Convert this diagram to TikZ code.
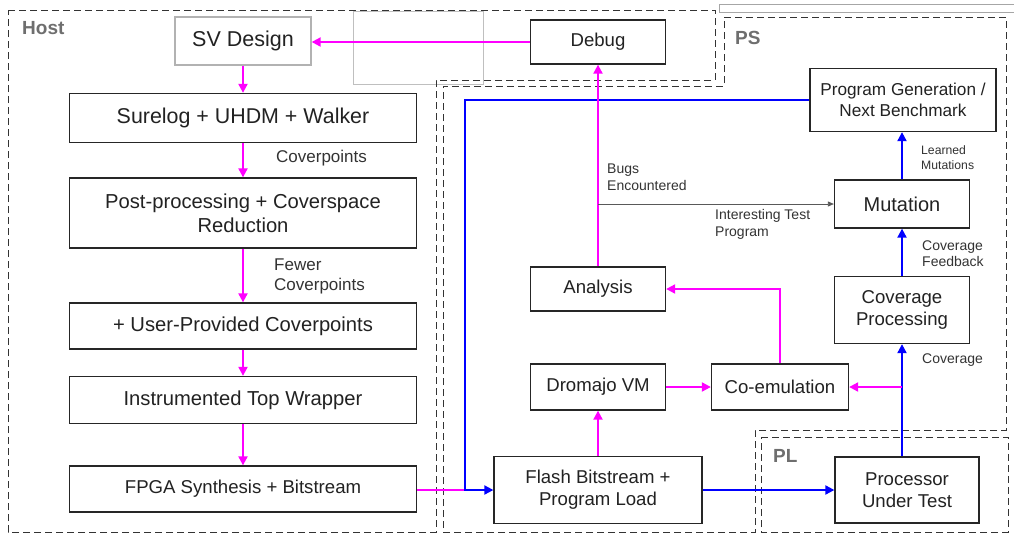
\documentclass[tikz,border=0pt]{standalone}
\usepackage{fontspec}
\setmainfont{Liberation Sans}
\usetikzlibrary{arrows.meta}
\definecolor{mag}{HTML}{FF00FF}
\definecolor{blu}{HTML}{0000FF}
\definecolor{regiongray}{HTML}{6E6E6E}
\definecolor{txt}{HTML}{222222}
\definecolor{lbl}{HTML}{333333}
\tikzset{
  box/.style={draw=black!85, line width=1.3pt, fill=white, text=txt, align=center, inner sep=0pt},
  hostfont/.style={font=\fontsize{20.2}{24}\selectfont},
  psfont/.style={font=\fontsize{18.6}{22}\selectfont},
  lab/.style={text=lbl, align=left, anchor=west, inner sep=0pt, font=\fontsize{14}{17}\selectfont},
  hostlab/.style={text=lbl, align=left, anchor=west, inner sep=0pt, font=\fontsize{17}{20}\selectfont},
  smalllab/.style={text=lbl, align=left, anchor=west, inner sep=0pt, font=\fontsize{12.2}{15}\selectfont},
  region/.style={draw=black!80, line width=1pt, dash pattern=on 7pt off 4pt},
  regionname/.style={text=regiongray, font=\bfseries\fontsize{19}{22}\selectfont, anchor=west, inner sep=0pt},
  magflow/.style={draw=mag, line width=2pt, -{Triangle[length=9pt,width=9pt]}},
  bluflow/.style={draw=blu, line width=2pt, -{Triangle[length=9pt,width=9pt]}},
  magline/.style={draw=mag, line width=2pt},
  thinflow/.style={draw=black!65, line width=0.8pt, -{Triangle[length=6pt,width=5pt]}},
}
\begin{document}
\begin{tikzpicture}[x=1pt,y=-1pt]
\useasboundingbox (0,0) rectangle (1014,533);
\fill[white] (0,0) rectangle (1014,533);

% faint frames
\draw[black!25, line width=0.8pt] (353,11) rectangle (483,84);
\draw[black!35, line width=0.8pt] (1014,4.5) -- (719,4.5) -- (719,12) -- (1014,12);

% regions
\draw[region] (8,10) -- (715,10) -- (715,80) -- (436,80) -- (436,532) -- (8,532) -- cycle;
\draw[region] (724,17) -- (1006,17) -- (1006,430) -- (755,430) -- (755,532) -- (443,532) -- (443,86) -- (724,86) -- cycle;
\draw[region] (761,437) -- (1008,437) -- (1008,532) -- (761,532) -- cycle;
\node[regionname] (hostname) at (22,28) {Host};
\node[regionname] (psname) at (735,38) {PS};
\node[regionname] (plname) at (773,456) {PL};

% host flow
\node[box, draw=black!30, font=\fontsize{21.5}{24}\selectfont, minimum width=136pt, minimum height=48pt] (sv) at (243,41) {SV Design};
\node[box, font=\fontsize{21.4}{24}\selectfont, minimum width=347pt, minimum height=49pt] (surelog) at (243,118) {Surelog + UHDM + Walker};
\node[box, hostfont, minimum width=347pt, minimum height=70pt] (post) at (243,213) {Post-processing + Coverspace\\Reduction};
\node[box, hostfont, minimum width=347pt, minimum height=46pt] (user) at (243,326) {+ User-Provided Coverpoints};
\node[box, hostfont, minimum width=347pt, minimum height=47pt] (instr) at (243,400) {Instrumented Top Wrapper};
\node[box, psfont, minimum width=347pt, minimum height=46pt] (fpga) at (243,489) {FPGA Synthesis + Bitstream};

% processing system / programmable logic
\node[box, psfont, minimum width=135pt, minimum height=44pt] (debug) at (598,42) {Debug};
\node[box, font=\fontsize{17.2}{21}\selectfont, minimum width=186pt, minimum height=63pt] (proggen) at (903,100) {Program Generation /\\Next Benchmark};
\node[box, font=\fontsize{20}{24}\selectfont, minimum width=135pt, minimum height=48pt] (mutation) at (902,204) {Mutation};
\node[box, psfont, minimum width=135pt, minimum height=67pt] (covproc) at (902,310) {Coverage\\Processing};
\node[box, psfont, minimum width=135pt, minimum height=44pt] (analysis) at (598,289) {Analysis};
\node[box, psfont, minimum width=135pt, minimum height=46pt] (dromajo) at (598,387) {Dromajo VM};
\node[box, psfont, minimum width=137pt, minimum height=46pt] (coemu) at (780,387) {Co-emulation};
\node[box, psfont, minimum width=208pt, minimum height=67pt] (flash) at (598,490) {Flash Bitstream +\\Program Load};
\node[box, psfont, minimum width=144pt, minimum height=66pt] (put) at (907,490) {Processor\\Under Test};

% host arrows
\draw[magflow] (debug.west) -- (sv.east |- debug.west);
\draw[magflow] (sv.south) -- (surelog.north);
\draw[magflow] (surelog.south) -- (post.north);
\draw[magflow] (post.south) -- (user.north);
\draw[magflow] (user.south) -- (instr.north);
\draw[magflow] (instr.south) -- (fpga.north);

\node[hostlab] (lcov) at (276,158) {Coverpoints};
\node[hostlab] (lfewer) at (274,276) {Fewer\\Coverpoints};

% bitstream hand-off and program feed
\coordinate (join) at (465,490);
\draw[magline] (fpga.east |- join) -- (join);
\draw[bluflow] (proggen.west) -| (join) -- (flash.west);
\draw[bluflow] (flash.east) -- (put.west);

% coverage loop
\coordinate (tap) at (covproc.south |- coemu.east);
\draw[bluflow] (covproc.south |- put.north) -- (covproc.south);
\draw[magflow] (tap) -- (coemu.east);
\draw[bluflow] (covproc.north) -- (mutation.south);
\draw[bluflow] (mutation.north) -- (mutation.north |- proggen.south);
\node[lab] (lcovc) at (922,360) {Coverage};
\node[lab, font=\fontsize{14}{15.5}\selectfont] (lfeed) at (922,253.5) {Coverage\\Feedback};
\node[smalllab] (llearn) at (921,157.5) {Learned\\Mutations};

% emulation and debug path
\draw[magflow] (flash.north) -- (dromajo.south);
\draw[magflow] (dromajo.east) -- (coemu.west);
\draw[magflow] (coemu.north) |- (analysis.east);
\draw[magflow] (analysis.north) -- (debug.south);
\coordinate (bugtap) at (debug.south |- mutation.west);
\draw[thinflow] (bugtap) -- (mutation.west);
\node[lab] (lbugs) at (607,177.5) {Bugs\\Encountered};
\node[lab] (lint) at (715,224.5) {Interesting Test\\Program};
\end{tikzpicture}
\end{document}
